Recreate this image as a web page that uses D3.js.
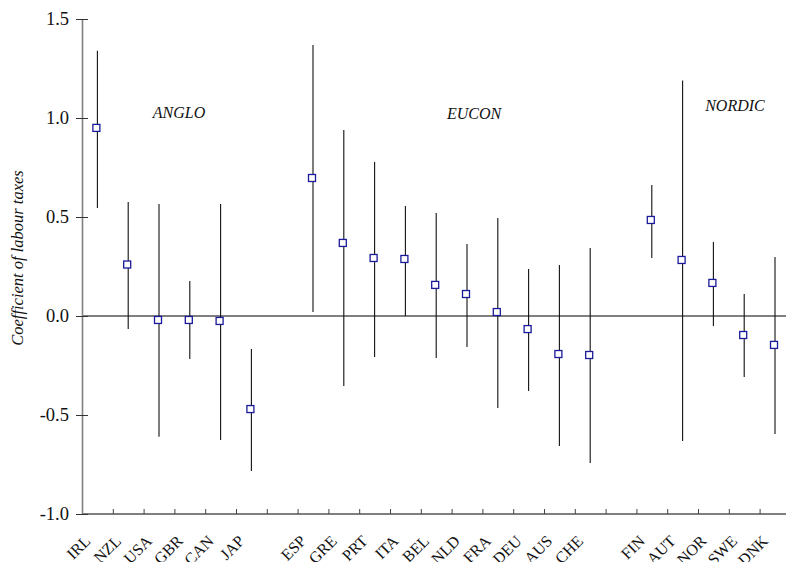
<!DOCTYPE html>
<html><head><meta charset="utf-8">
<script src="https://cdn.jsdelivr.net/npm/d3@7/dist/d3.min.js"></script>
<style>
html,body{margin:0;padding:0;background:#fff;}
svg{display:block;}
svg text{font-family:"Liberation Serif","Times New Roman",serif;}
</style></head>
<body><svg id="c" width="786" height="562"></svg>
<script>
// Slots along the x axis (gaps separate the country groups)
const slots = ["IRL","NZL","USA","GBR","CAN","JAP","_g1","ESP","GRE","PRT","ITA","BEL","NLD","FRA","DEU","AUS","CHE","_g2","FIN","AUT","NOR","SWE","DNK"];
const countries = ["IRL","NZL","USA","GBR","CAN","JAP","ESP","GRE","PRT","ITA","BEL","NLD","FRA","DEU","AUS","CHE","FIN","AUT","NOR","SWE","DNK"];
const estimate = [0.95,0.26,-0.02,-0.02,-0.025,-0.47,0.697,0.369,0.293,0.288,0.157,0.111,0.02,-0.066,-0.192,-0.197,0.485,0.283,0.167,-0.096,-0.146];
const lower    = [0.545,-0.066,-0.61,-0.217,-0.626,-0.783,0.02,-0.354,-0.207,0.0,-0.212,-0.157,-0.465,-0.379,-0.657,-0.742,0.293,-0.631,-0.05,-0.308,-0.596];
const upper    = [1.34,0.576,0.566,0.177,0.566,-0.167,1.369,0.94,0.778,0.556,0.52,0.364,0.495,0.237,0.258,0.343,0.662,1.19,0.374,0.111,0.298];
const groupLabels = ["ANGLO","EUCON","NORDIC"];
const yTicks = [-1.0,-0.5,0.0,0.5,1.0,1.5];

const svg = d3.select("#c");
const W = 786;
const x0 = 82, slotW = 30.8;
const x = d3.scaleBand().domain(slots).range([x0, x0 + slots.length*slotW]).paddingInner(0).paddingOuter(0);
const xEdge = d3.scaleLinear().domain([0, slots.length]).range([x0, x0 + slots.length*slotW]);
const y = d3.scaleLinear().domain([-1, 1.5]).range([514, 19]);
const cx = c => x(c) + x.bandwidth()/2;
const FONT = "Liberation Serif";

// zero line
svg.append("line").attr("x1", x0).attr("x2", W).attr("y1", y(0)).attr("y2", y(0))
  .attr("stroke","#000").attr("stroke-width",1);

// x axis (ticks at slot edges, pointing up)
const gx = svg.append("g").attr("transform",`translate(0,${y(-1)})`)
  .call(d3.axisBottom(xEdge).tickValues(d3.range(0, slots.length)).tickSize(-5).tickSizeOuter(0).tickFormat(""));
gx.select(".domain").attr("d", `M${x0},0H${W}`).attr("stroke","#555").attr("stroke-width",1.3);
gx.selectAll(".tick line").attr("stroke","#444");

// x labels
svg.append("g").selectAll("text").data(countries).join("text")
  .attr("transform", d => `translate(${cx(d)-6},${y(-1)+28}) rotate(-45)`)
  .attr("text-anchor","end").attr("font-family",FONT).attr("font-size",16).attr("fill","#111").text(d => d);

// y axis
const gy = svg.append("g").attr("transform",`translate(${x0},0)`)
  .call(d3.axisLeft(y).tickValues(yTicks).tickSize(6).tickSizeOuter(0)
    .tickFormat(d => d3.format(".1f")(d).replace("\u2212","-")));
gy.attr("font-family",FONT);
gy.select(".domain").attr("stroke","#808080").attr("stroke-width",1.6);
gy.selectAll(".tick line").attr("x1",6).attr("x2",-6).attr("stroke","#333");
gy.selectAll(".tick text").attr("x",-13).attr("font-size",18.5).attr("font-family",FONT).attr("fill","#111");

// y title
svg.append("text").attr("transform","translate(23,258) rotate(-90)")
  .attr("text-anchor","middle").attr("font-family",FONT).attr("font-size",16.5).attr("font-style","italic").attr("fill","#111")
  .text("Coefficient of labour taxes");

// group labels (positioned in slot units along the x axis)
const glPos = [3.15, 12.73, 21.2];
const glY = [118,119,111];
svg.append("g").selectAll("text").data(groupLabels).join("text")
  .attr("x", (d,i) => xEdge(glPos[i]))
  .attr("y", (d,i) => glY[i])
  .attr("text-anchor","middle").attr("font-family",FONT).attr("font-size",16).attr("font-style","italic").attr("fill","#111")
  .text(d => d);

// error bars
svg.append("g").selectAll("line").data(countries).join("line")
  .attr("x1", d => cx(d)).attr("x2", d => cx(d))
  .attr("y1", (d,i) => y(lower[i])).attr("y2", (d,i) => y(upper[i]))
  .attr("stroke","#111").attr("stroke-width",1.1);

// markers
svg.append("g").selectAll("rect").data(countries).join("rect")
  .attr("x", d => cx(d)-4.5).attr("y", (d,i) => y(estimate[i])-3.5)
  .attr("width",7).attr("height",7)
  .attr("fill","#fff").attr("stroke","#1a1a9a").attr("stroke-width",1.3);
</script></body></html>
